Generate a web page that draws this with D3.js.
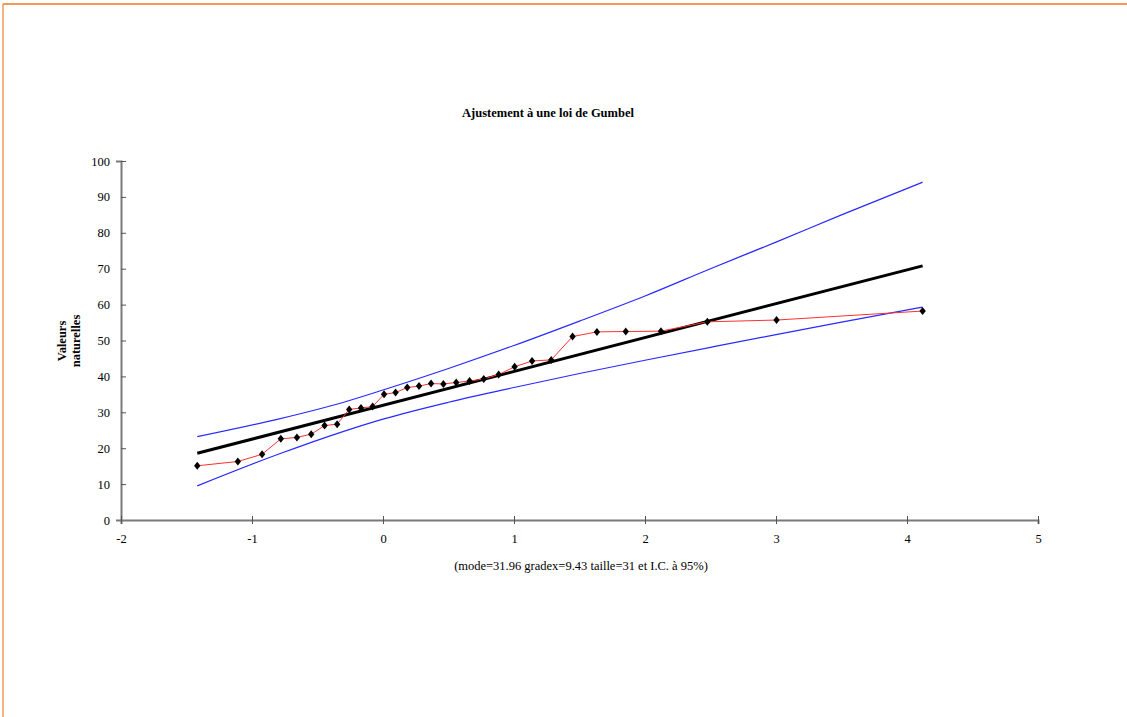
<!DOCTYPE html>
<html>
<head>
<meta charset="utf-8">
<script src="https://cdn.jsdelivr.net/npm/d3@7"></script>
<style>
  html, body { margin: 0; padding: 0; background: #fff; }
  svg { display: block; }
  text { font-family: "Liberation Serif", "Times New Roman", serif; fill: #000; }
</style>
</head>
<body>
<svg id="chart" width="1127" height="717"></svg>
<script>
// Gumbel reduced variate of each observation and observed value
var obsU = [-1.418, -1.108, -0.923, -0.780, -0.657, -0.548, -0.446, -0.350, -0.258, -0.168,
  -0.079, 0.008, 0.096, 0.185, 0.275, 0.367, 0.461, 0.559, 0.661, 0.769,
  0.883, 1.005, 1.138, 1.284, 1.447, 1.633, 1.853, 2.122, 2.476, 3.004, 4.119];
var obsVal = [15.1, 16.3, 18.3, 22.6, 23.0, 23.9, 26.3, 26.7, 30.8, 31.2,
  31.6, 35.0, 35.5, 36.9, 37.3, 38.0, 37.9, 38.3, 38.7, 39.3,
  40.5, 42.7, 44.3, 44.6, 51.1, 52.4, 52.5, 52.6, 55.2, 55.7, 58.2];

// fitted Gumbel line
var fitU = [-1.418, 4.119];
var fitVal = [18.59, 70.80];

// 95% confidence bands
var bandU = [-1.418, -0.8, -0.3, 0, 0.5, 1.0, 1.5, 2.0, 2.5, 3.0, 3.5, 4.119];
var upperVal = [23.2, 28.1, 32.8, 36.2, 42.2, 48.6, 55.4, 62.4, 70.0, 77.4, 85.0, 94.1];
var lowerVal = [9.5, 18.3, 24.7, 28.1, 32.8, 36.9, 40.8, 44.5, 48.1, 51.65, 55.1, 59.3];

var xTicks = [-2, -1, 0, 1, 2, 3, 4, 5];
var yTicks = [0, 10, 20, 30, 40, 50, 60, 70, 80, 90, 100];

var svg = d3.select('#chart');

// orange frame (only top and left edges show)
svg.append('line')
  .attr('x1', 3).attr('y1', 4).attr('x2', 1127).attr('y2', 4)
  .attr('stroke', '#f29a55').attr('stroke-width', 2);
svg.append('line')
  .attr('x1', 3).attr('y1', 4).attr('x2', 3).attr('y2', 717)
  .attr('stroke', '#f29a55').attr('stroke-width', 1.5);

var x = d3.scaleLinear().domain([-2, 5]).range([121, 1038]);
var y = d3.scaleLinear().domain([0, 100]).range([520, 161]);

var plain = function(d) { return String(d); };

// axes, ticks crossing the line like the original
var yAxis = svg.append('g')
  .attr('transform', 'translate(121,0)')
  .call(d3.axisLeft(y).tickValues(yTicks).tickFormat(plain).tickSize(5).tickPadding(6));
yAxis.selectAll('.tick line').attr('x2', 5);

var xAxis = svg.append('g')
  .attr('transform', 'translate(0,520)')
  .call(d3.axisBottom(x).tickValues(xTicks).tickFormat(plain).tickSize(4).tickPadding(15));
xAxis.selectAll('.tick line').attr('y1', -4);

svg.selectAll('g').attr('font-family', '"Liberation Serif", serif');
svg.selectAll('.domain').attr('stroke', '#7a7a7a').attr('stroke-width', 2);
svg.selectAll('.tick line').attr('stroke', '#555').attr('stroke-width', 1);
svg.selectAll('.tick text')
  .style('font-family', '"Liberation Serif", serif')
  .style('font-size', '12.5px')
  .attr('fill', '#000');
xAxis.selectAll('.tick text').attr('dy', '0.3em');

var line = d3.line()
  .x(function(d) { return x(d[0]); })
  .y(function(d) { return y(d[1]); });

var band = function(vals) {
  return bandU.map(function(u, i) { return [u, vals[i]]; });
};

var curve = d3.line()
  .x(function(d) { return x(d[0]); })
  .y(function(d) { return y(d[1]); })
  .curve(d3.curveMonotoneX);

svg.append('path').attr('d', curve(band(upperVal)))
  .attr('fill', 'none').attr('stroke', '#2a2aff').attr('stroke-width', 1.2);
svg.append('path').attr('d', curve(band(lowerVal)))
  .attr('fill', 'none').attr('stroke', '#2a2aff').attr('stroke-width', 1.2);

svg.append('path')
  .attr('d', line(fitU.map(function(u, i) { return [u, fitVal[i]]; })))
  .attr('fill', 'none').attr('stroke', '#000').attr('stroke-width', 3);

var obs = obsU.map(function(u, i) { return [u, obsVal[i]]; });
svg.append('path').attr('d', line(obs))
  .attr('fill', 'none').attr('stroke', '#ff3030').attr('stroke-width', 1);

svg.selectAll('.pt').data(obs).enter().append('path')
  .attr('class', 'pt')
  .attr('transform', function(d) { return 'translate(' + x(d[0]) + ',' + y(d[1]) + ')'; })
  .attr('d', 'M0,-4L3.2,0L0,4L-3.2,0Z')
  .attr('fill', '#000');

// texts
svg.append('text')
  .attr('x', 548).attr('y', 117)
  .attr('text-anchor', 'middle')
  .style('font-size', '12.5px').style('font-weight', 'bold')
  .text('Ajustement à une loi de Gumbel');

svg.append('text')
  .attr('x', 581).attr('y', 570)
  .attr('text-anchor', 'middle')
  .style('font-size', '12.5px')
  .text('(mode=31.96 gradex=9.43 taille=31 et I.C. à 95%)');

var ylab = svg.append('text')
  .attr('transform', 'translate(66,341) rotate(-90)')
  .attr('text-anchor', 'middle')
  .style('font-size', '12.5px').style('font-weight', 'bold');
ylab.append('tspan').attr('x', 0).attr('dy', 0).text('Valeurs');
ylab.append('tspan').attr('x', 0).attr('dy', 14).text('naturelles');
</script>
</body>
</html>
